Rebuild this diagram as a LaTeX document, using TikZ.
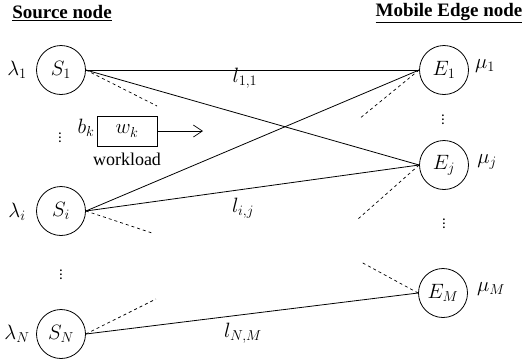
\documentclass[tikz,border=0pt]{standalone}
\usepackage{fontspec}
\setmainfont{Liberation Serif}
\usetikzlibrary{arrows.meta}
\tikzset{
  host/.style={draw, circle, line width=0.8pt, minimum size=49pt, inner sep=0pt},
  link/.style={line width=0.8pt},
  stub/.style={line width=0.7pt, dash pattern=on 3pt off 3pt},
  lbl/.style={inner sep=0pt},
  vdot/.style={inner sep=0pt, font=\fontsize{11}{12}\selectfont\bfseries},
  head/.style={inner sep=0pt, font=\fontsize{19}{21}\selectfont\bfseries},
}
\begin{document}
\begin{tikzpicture}[x=1pt, y=-1pt, font=\fontsize{21}{24}\selectfont]
\useasboundingbox (0,0) rectangle (526,360);

% column headings
\node[head] (hs) at (62,13) {\underline{Source node}};
\node[head] (he) at (449,13) {\underline{Mobile Edge node}};

% source nodes
\node[host] (S1) at (61,70) {$S_1$};
\node[host] (Si) at (61,211) {$S_i$};
\node[host] (SN) at (61,334) {$S_N$};

% mobile edge nodes
\node[host] (E1) at (444,70) {$E_1$};
\node[host] (Ej) at (444,165) {$E_j$};
\node[host] (EM) at (443,293) {$E_M$};

% arrival rates and service rates
\node[lbl] (l1) at (17,70) {$\lambda_1$};
\node[lbl] (li) at (17,212) {$\lambda_i$};
\node[lbl] (lN) at (17,334) {$\lambda_N$};
\node[lbl] (m1) at (485,66) {$\mu_1$};
\node[lbl] (mj) at (487,162) {$\mu_j$};
\node[lbl] (mM) at (491,289) {$\mu_M$};

% vertical ellipses
\node[vdot] (d1) at (60,135) {$\vdots$};
\node[vdot] (d2) at (61,272) {$\vdots$};
\node[vdot] (d3) at (443,117) {$\vdots$};
\node[vdot] (d4) at (444,221) {$\vdots$};

% links
\draw[link] (S1.east) -- (E1.west);
\draw[link] (S1.east) -- (Ej.west);
\draw[link] (Si.east) -- (E1.west);
\draw[link] (Si.east) -- (Ej.west);
\draw[link] (SN.east) -- (EM.west);

\node[lbl] (t11) at (245,78) {$l_{1,1}$};
\node[lbl] (tij) at (243,208) {$l_{i,j}$};
\node[lbl] (tNM) at (243,333) {$l_{N,M}$};

% dashed stubs for further links
\coordinate (s1d) at (157,106);
\coordinate (sid) at (152,233);
\coordinate (sNd) at (156,299);
\coordinate (e1d) at (359,119);
\coordinate (ejd) at (358,219);
\coordinate (eMd) at (361,262);
\draw[stub] (S1.east) -- (s1d);
\draw[stub] (Si.east) -- (sid);
\draw[stub] (SN.east) -- (sNd);
\draw[stub] (E1.west) -- (e1d);
\draw[stub] (Ej.west) -- (ejd);
\draw[stub] (EM.west) -- (eMd);

% workload
\node[draw, line width=0.7pt, minimum width=60pt, minimum height=30pt, inner sep=0pt] (w) at (127,131) {$w_k$};
\node[lbl, anchor=east] (b) at (w.west) [xshift=-2pt, yshift=3pt] {$b_k$};
\node[lbl, font=\fontsize{18}{20}\selectfont] (wl) at (127,159) {workload};
\coordinate (wend) at (203,131);
\draw[line width=0.7pt, -{Straight Barb[length=9pt, width=12pt]}] (w.east) -- (wend);
\end{tikzpicture}
\end{document}
